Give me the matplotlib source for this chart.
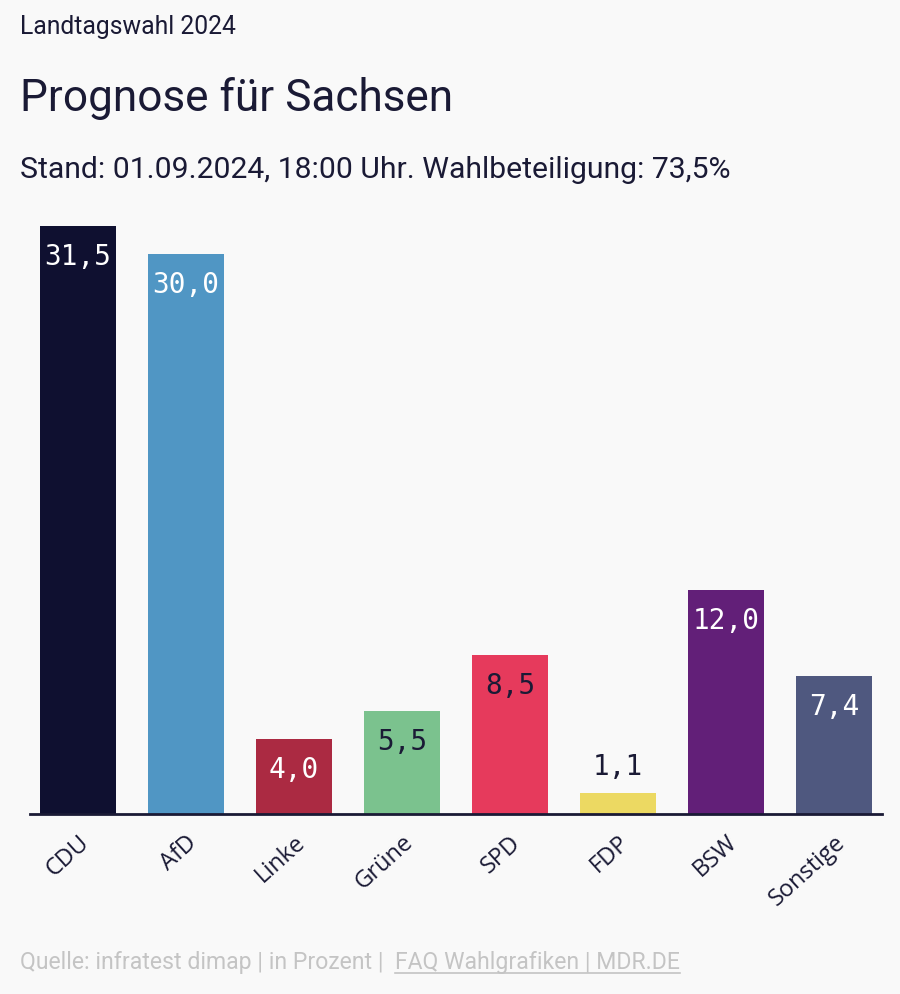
import matplotlib
matplotlib.use("Agg")
import matplotlib.pyplot as plt
from matplotlib.lines import Line2D

# Daten
parteien = ["CDU", "AfD", "Linke", "Grüne", "SPD", "FDP", "BSW", "Sonstige"]
werte = [31.5, 30.0, 4.0, 5.5, 8.5, 1.1, 12.0, 7.4]
farben = ["#0f1030", "#5096c4", "#ab2a42", "#7bc28e", "#e63a5c", "#ecd962", "#621f78", "#4f587f"]
textfarben = ["white", "white", "white", "#1a1a35", "#1a1a35", "#1a1a35", "white", "white"]

dunkel = "#1a1a35"
bg = "#f9f9f9"
plt.rcParams["font.family"] = ["Roboto", "DejaVu Sans"]

fig = plt.figure(figsize=(9, 9.94), dpi=100)
fig.patch.set_facecolor(bg)

W, H = 900, 994
ax = fig.add_axes([30 / W, (H - 814) / H, 852 / W, 588 / H])
ax.set_facecolor(bg)

x = range(len(parteien))
ax.bar(x, werte, width=0.704, color=farben)
ax.set_xlim(-0.444, len(parteien) - 1 + 0.444)
ax.set_ylim(0, 31.5)

for s in ["top", "right", "left"]:
    ax.spines[s].set_visible(False)
ax.spines["bottom"].set_color(dunkel)
ax.spines["bottom"].set_linewidth(2)
ax.set_yticks([])
ax.set_xticks(list(x))
ax.set_xticklabels(parteien, rotation=42, ha="right", va="top", rotation_mode="anchor",
                   fontsize=17, color=dunkel, family=["Open Sans", "DejaVu Sans"])
ax.tick_params(axis="x", length=0, pad=12)

# Werte in/ueber den Balken
px_per_unit = 588 / 31.5
for i, v in enumerate(werte):
    label = f"{v:.1f}".replace(".", ",")
    if v * px_per_unit > 60:
        y = v - 31 / px_per_unit
    else:
        y = v + 26 / px_per_unit
    ax.text(i, y, label, ha="center", va="center", color=textfarben[i],
            fontsize=20, family="DejaVu Sans Mono")

fig.canvas.draw()
r = fig.canvas.get_renderer()


def text_breite(xp, yp, s, breite, farbe=dunkel, start=14):
    # Schriftgroesse so waehlen, dass der Text die Breite im Bild trifft
    t = fig.text(xp / W, 1 - yp / H, s, fontsize=start, color=farbe, va="center")
    b = t.get_window_extent(r).width
    t.set_fontsize(start * breite / b)
    return t


# Titel
text_breite(20, 27, "Landtagswahl 2024", 218)
text_breite(20, 98, "Prognose für Sachsen", 433, start=30)
text_breite(20, 170, "Stand: 01.09.2024, 18:00 Uhr. Wahlbeteiligung: 73,5%", 708, start=20)

# Quelle
grau = "#c4c4c4"
t1 = text_breite(20, 962, "Quelle: infratest dimap | in Prozent |  ", 375, farbe=grau)
bb = t1.get_window_extent(r)
t2 = fig.text(bb.x1 / W, 1 - 962 / H, "FAQ Wahlgrafiken | MDR.DE",
              fontsize=t1.get_fontsize(), color=grau, va="center")
bb2 = t2.get_window_extent(r)
yl = (994 - 973) / H
fig.add_artist(Line2D([bb2.x0 / W, bb2.x1 / W], [yl, yl], color=grau, lw=1.2,
                      transform=fig.transFigure))

fig.savefig("out.png", dpi=100, facecolor=bg)
